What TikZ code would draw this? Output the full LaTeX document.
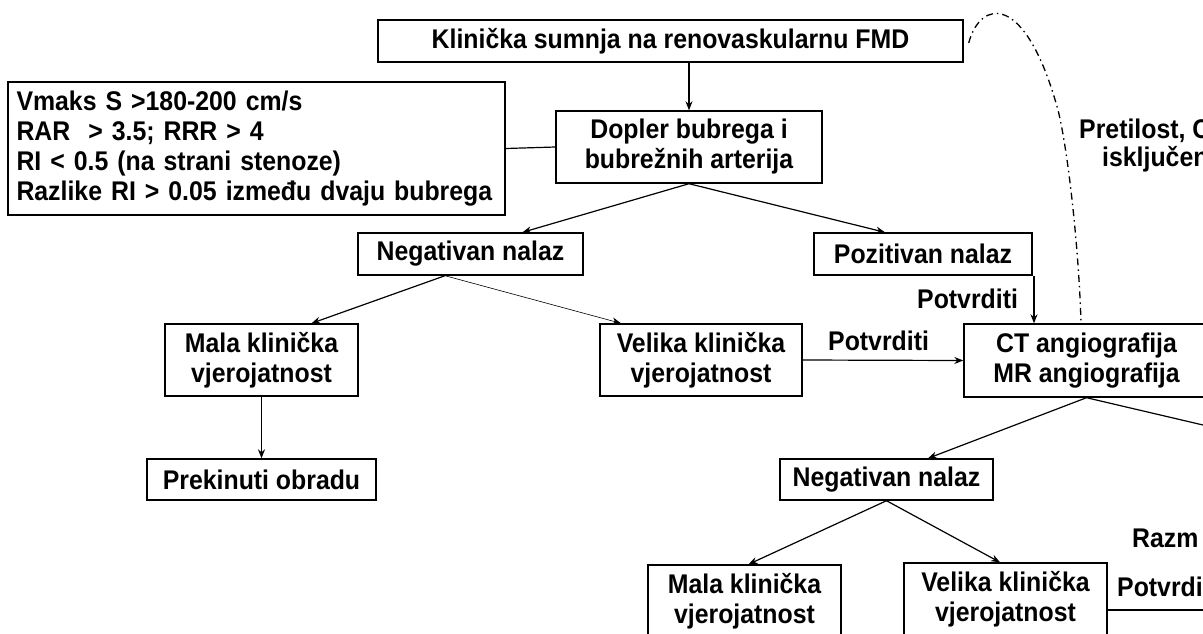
\documentclass[tikz,border=0pt]{standalone}
\usepackage{fontspec}
\setmainfont[FakeStretch=0.92]{Liberation Sans}
\usetikzlibrary{arrows.meta,calc}
\tikzset{
  txt/.style={font=\fontsize{27}{30}\selectfont\bfseries},
  box/.style={txt, draw, line width=1.4pt, inner sep=0pt, align=center},
  lbl/.style={txt, inner sep=0pt, anchor=base west},
  arr/.style={line width=1.2pt, -{Stealth[length=9pt,width=7pt]}},
  thinarr/.style={line width=0.6pt, -{Stealth[length=9pt,width=7pt]}},
  plain/.style={line width=1.2pt},
  dashdotline/.style={line width=1.3pt, dash pattern=on 7pt off 4pt on 1.5pt off 4pt}
}
\begin{document}
\begin{tikzpicture}[x=1pt,y=-1pt]
\useasboundingbox (0,0) rectangle (1203,633);
\fill[white] (0,0) rectangle (1203,633);
\clip (0,0) rectangle (1203,633);

% boxes
\node[box, minimum width=585pt, minimum height=42pt] (top) at (670.5,41) {Klinička sumnja na renovaskularnu FMD};
\node[box, minimum width=497pt, minimum height=133pt, text width=480pt, align=left] (crit) at (256.5,148.5)
  {Vmaks S >180-200 cm/s\\RAR~ > 3.5; RRR > 4\\RI < 0.5 (na strani stenoze)\\Razlike RI > 0.05 između dvaju bubrega};
\node[box, minimum width=266pt, minimum height=72pt] (dop) at (689,147) {Dopler bubrega i\\bubrežnih arterija};
\node[box, minimum width=225pt, minimum height=42pt] (neg1) at (470.5,254) {Negativan nalaz};
\node[box, minimum width=218pt, minimum height=42pt] (pos) at (923,254) {Pozitivan nalaz};
\node[box, minimum width=193pt, minimum height=72pt] (mala1) at (261.5,360) {Mala klinička\\vjerojatnost};
\node[box, minimum width=202pt, minimum height=72pt] (vel1) at (701,360) {Velika klinička\\vjerojatnost};
\node[box, minimum width=229pt, minimum height=41pt] (prek) at (261.5,479.5) {Prekinuti obradu};
\node[box, minimum width=245pt, minimum height=73pt] (ct) at (1086.5,360.5) {CT angiografija\\MR angiografija};
\node[box, minimum width=213pt, minimum height=41pt] (neg2) at (886.5,479.5) {Negativan nalaz};
\node[box, minimum width=193pt, minimum height=73pt] (mala2) at (744.5,601.5) {Mala klinička\\vjerojatnost};
\node[box, minimum width=203pt, minimum height=73pt] (vel2) at (1005.5,599.5) {Velika klinička\\vjerojatnost};

% labels
\node[lbl] (lpot1) at (917,308) {Potvrditi};
\node[lbl] (lpot2) at (828,350) {Potvrditi};
\node[lbl] (lpre) at (1079,138) {Pretilost, C};
\node[lbl] (lisk) at (1102,166) {isključen};
\node[lbl] (lraz) at (1132,547) {Razm};
\node[lbl] (lpot3) at (1117,596) {Potvrdi};

% free ends
\coordinate (offr) at (1250,436);
\coordinate (offr2) at (1250,610);

% connectors
\draw[arr] (top.south -| dop.north) -- (dop.north);
\draw[plain] (crit.east) -- (dop.west);
\draw[arr] (dop.south) -- ([xshift=52pt]neg1.north);
\draw[arr] (dop.south) -- ([xshift=-38pt]pos.north);
\draw[arr] ([xshift=-25.5pt]neg1.south) -- ([xshift=50pt]mala1.north);
\draw[thinarr] ([xshift=-25.5pt]neg1.south) -- ([xshift=-80pt]vel1.north);
\draw[arr] (mala1.south) -- (prek.north);
\draw[arr] (vel1.east) -- (ct.west);
\draw[arr] ([xshift=-52.5pt]ct.north |- pos.south) -- ([xshift=-52.5pt]ct.north);
\draw[arr] (ct.south) -- ([xshift=41.5pt]neg2.north);
\draw[plain] (ct.south) -- (offr);
\draw[arr] (neg2.south) -- ([xshift=4pt]mala2.north);
\draw[arr] (neg2.south) -- ([xshift=-5.5pt]vel2.north);
\draw[plain] ([yshift=-10.5pt]vel2.east) -- (offr2);
\draw[dashdotline] ([shift={(5pt,-2pt)}]top.east) .. controls (980,0) and (1025,-10) .. (1058,110)
  .. controls (1068,150) and (1079,250) .. ([xshift=-5.5pt]ct.north);
\end{tikzpicture}
\end{document}
